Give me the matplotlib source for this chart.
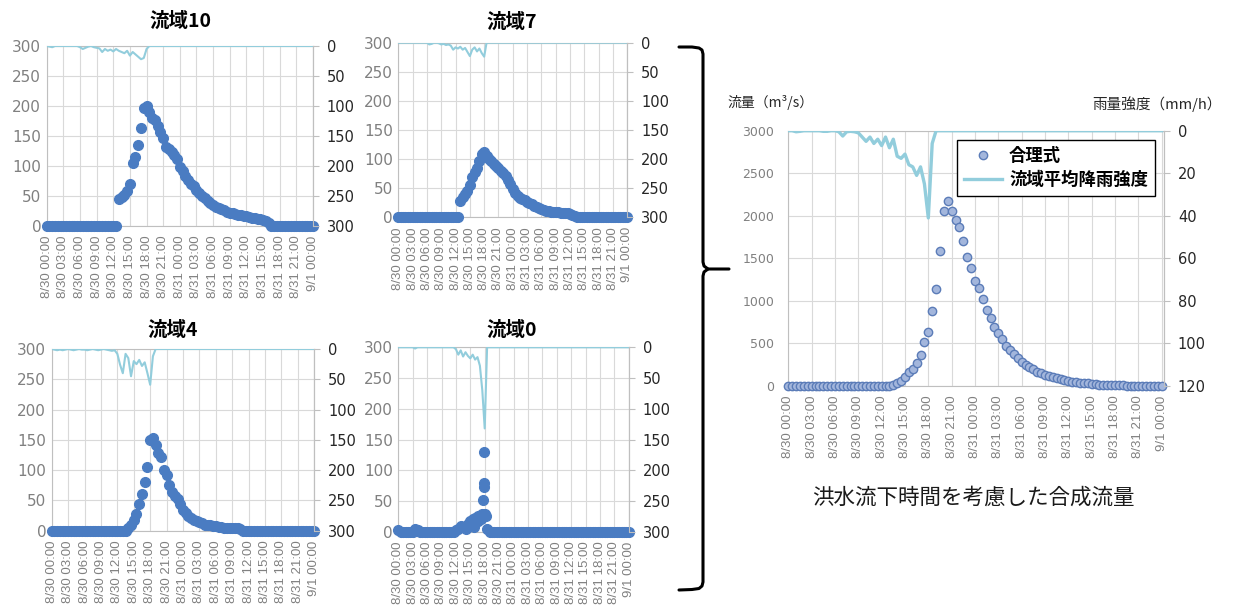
import numpy as np
import matplotlib
matplotlib.use('Agg')
import matplotlib.pyplot as plt
from matplotlib.lines import Line2D

plt.rcParams['font.family'] = ['DejaVu Sans', 'Noto Sans CJK JP']

# time axis: 30 minute steps from 8/30 00:00 to 9/1 00:00 (hours)
hours = np.arange(97) * 0.5
tick_hours = np.arange(0, 49, 3)
tick_labels = ['8/30 00:00', '8/30 03:00', '8/30 06:00', '8/30 09:00', '8/30 12:00',
               '8/30 15:00', '8/30 18:00', '8/30 21:00', '8/31 00:00', '8/31 03:00',
               '8/31 06:00', '8/31 09:00', '8/31 12:00', '8/31 15:00', '8/31 18:00',
               '8/31 21:00', '9/1 00:00']

# flow (m3/s) per sub-basin
q10 = [0]*26 + [45, 48, 52, 58, 70, 105, 115, 135, 163, 196, 200, 190, 180, 176, 166,
                157, 146, 132, 128, 124, 118, 112, 99, 91, 84, 77, 70, 66, 60, 55,
                50, 47, 42, 38, 35, 32, 30, 28, 26, 24, 22, 21, 20, 19, 18,
                17, 16, 15, 14, 13, 12, 11, 10, 8, 5] + [0]*16
q7 = [0]*26 + [28, 35, 40, 45, 55, 70, 78, 85, 97, 108, 112, 105, 100, 96, 92,
               88, 84, 80, 76, 71, 64, 57, 49, 42, 37, 34, 31, 29, 27, 25,
               22, 20, 18, 16, 14, 13, 11, 10, 9, 9, 9, 9, 8, 8, 7,
               7, 5, 4, 3, 1] + [0]*21
q4 = [0]*28 + [5, 10, 17, 27, 44, 60, 80, 105, 150, 153, 142, 128, 122, 100, 92,
               76, 64, 58, 52, 44, 35, 29, 25, 21, 18, 16, 14, 12, 10, 9,
               9, 8, 7, 6, 6, 5, 4, 4, 4, 4, 4, 2] + [0]*27
q0 = [2, 0, 0, 0, 0, 0, 0, 4, 2] + [0]*15 + [2, 5, 10, 8, 5, 12, 18, 20, 22, 25,
                                             26, 28, 28, 5] + [0]*59
# extra 10-minute readings around the 流域0 peak
q0_extra_hours = [15.17, 15.67, 16.17, 16.67, 17.17, 17.67, 17.83, 17.83, 17.83, 17.83, 18.17]
q0_extra_vals = [12, 8, 15, 18, 20, 51, 129, 80, 73, 27, 25]

# rainfall intensity (mm/h) per sub-basin
r10 = [0, 1, 2, 0, 0, 0, 0, 0, 0, 0, 0, 0, 2, 5, 3, 1, 0, 2, 3, 4,
       10, 5, 8, 6, 9, 5, 8, 10, 12, 8, 16, 10, 14, 18, 22, 20, 5, 0] + [0]*59
r7 = [0]*13 + [3, 2, 0, 0, 1, 3, 2, 4, 3, 5, 12, 8, 10, 7, 12,
               9, 16, 23, 12, 8, 15, 10, 18, 24, 0] + [0]*59
r4 = [0, 1, 2, 1, 2, 1, 0, 1, 2, 1, 0, 1, 1, 2, 1, 0, 1, 2, 1, 0,
      1, 2, 3, 2, 8, 26, 40, 8, 15, 45, 20, 25, 18, 28, 22, 40, 59, 12] + [0]*59
r0 = [0]*7 + [2] + [0]*16 + [3, 12, 5, 15, 8, 14, 18, 12, 20, 16, 30, 70, 132, 0] + [0]*59

# combined flow and basin-average rainfall
q_total = [0]*26 + [3, 12, 31, 55, 110, 160, 200, 265, 360, 515, 640, 880, 1145, 1590, 2060,
                    2170, 2060, 1950, 1865, 1700, 1510, 1390, 1235, 1150, 1020, 890, 795, 690, 620, 550,
                    470, 425, 375, 325, 285, 250, 220, 195, 170, 150, 130, 112, 100, 92, 80,
                    70, 63, 52, 45, 38, 32, 30, 24, 20, 15, 12, 12, 12, 12, 12,
                    10, 5] + [0]*9
r_avg = [0, 0, 0.5, 0.3, 0, 0, 0, 0, 0, 0.3, 0.3, 0, 0, 0.5, 2.5, 0.5, 0.3, 0.5, 1, 3,
         5, 3, 6, 4, 7, 3, 8, 4, 12, 13, 11, 16, 17, 21, 17, 25, 41, 6] + [0]*59

W, H = 1252, 610
fig = plt.figure(figsize=(W / 100, H / 100), dpi=100)

cjk = ['Noto Sans CJK JP', 'DejaVu Sans']
grid_c = '#d9d9d9'
spine_c = '#bfbfbf'
dot_c = '#4a7cc2'
rain_c = '#92cddc'


def px_rect(x0, y0, x1, y1):
    return [x0 / W, 1 - y1 / H, (x1 - x0) / W, (y1 - y0) / H]


def style_axes(ax, ax2, ymax, ymax2, ystep, ystep2, left_size, left_pad):
    ax.set_xlim(0, 48)
    ax.set_ylim(0, ymax)
    ax.set_yticks(np.arange(0, ymax + 1, ystep))
    ax.set_xticks(tick_hours)
    ax.set_xticklabels(tick_labels, rotation=90, family='Liberation Sans', fontsize=9.5, color='#808080')
    ax.tick_params(axis='x', length=0, pad=7)
    ax.tick_params(axis='y', length=0, labelsize=left_size, labelcolor='#808080', pad=left_pad)
    ax.grid(True, color=grid_c, lw=0.8)
    ax.set_axisbelow(True)
    for s in ax.spines.values():
        s.set_color(spine_c)
        s.set_linewidth(0.8)
    ax2.set_ylim(ymax2, 0)
    ax2.set_yticks(np.arange(0, ymax2 + 1, ystep2))
    ax2.tick_params(axis='y', length=4, color=spine_c, labelsize=10.5, labelcolor='#262626', pad=6)
    for s in ax2.spines.values():
        s.set_visible(False)
    ax2.spines['right'].set_visible(True)
    ax2.spines['right'].set_color(spine_c)
    ax2.spines['right'].set_linewidth(0.8)


def small_panel(rect, q, r, title, tx, ty):
    ax = fig.add_axes(px_rect(*rect))
    ax2 = ax.twinx()
    ax.plot(hours, q, 'o', ms=7, color=dot_c, clip_on=False, zorder=3)
    ax2.plot(hours, r, color=rain_c, lw=1.5)
    style_axes(ax, ax2, 300, 300, 50, 50, 11, 4)
    fig.text(tx / W, 1 - ty / H, title, family=cjk, fontsize=14, fontweight='bold',
             ha='center', va='center')
    return ax


small_panel((46.7, 46, 313, 226), q10, r10, '流域10', 180, 21)
small_panel((398.3, 42.7, 627.3, 217.3), q7, r7, '流域7', 512, 22)
small_panel((51.7, 349, 314.3, 530.7), q4, r4, '流域4', 173, 330)
ax0 = small_panel((398.3, 347.3, 628.7, 531.7), q0, r0, '流域0', 512, 330)
ax0.plot(q0_extra_hours, q0_extra_vals, 'o', ms=7, color=dot_c, clip_on=False, zorder=3)

# combined chart
axm = fig.add_axes(px_rect(788.3, 130.7, 1164, 386))
axm2 = axm.twinx()
pts, = axm.plot(hours, q_total, 'o', ms=6, mfc='#a3b6dc', mec='#5b7cb8', mew=1.0,
                clip_on=False, zorder=3, label='合理式')
rain_line, = axm2.plot(hours, r_avg, color=rain_c, lw=2.4, label='流域平均降雨強度')
style_axes(axm, axm2, 3000, 120, 500, 20, 9, 10)
axm.set_xlim(0, 48.3)
axm2.tick_params(axis='y', labelsize=10.5)
leg = axm2.legend(handles=[pts, rain_line], loc='upper right', bbox_to_anchor=(0.976, 0.965),
                  prop={'family': cjk, 'size': 12.5, 'weight': 'bold'}, frameon=True,
                  fancybox=False, edgecolor='black', framealpha=1, borderpad=0.4,
                  labelspacing=0.35, handlelength=2.2, handletextpad=0.4, borderaxespad=0)
leg.get_frame().set_linewidth(1.0)

fig.text(727 / W, 1 - 103 / H, '流量（m³/s）', family=cjk, fontsize=10, ha='left', va='center', color='#262626')
fig.text(1222 / W, 1 - 104 / H, '雨量強度（mm/h）', family=cjk, fontsize=10.5, ha='right', va='center', color='#262626')
fig.text(973 / W, 1 - 498 / H, '洪水流下時間を考慮した合成流量', family=cjk, fontsize=15.5,
         ha='center', va='center', color='#1a1a1a')

# curly brace joining the four basins to the combined chart
upper = [(679, 47), (692, 47), (699, 48), (702, 50), (703, 54), (703, 262), (704, 266), (708, 269), (729, 269)]
lower = [(679, 590), (692, 589.5), (699, 588.5), (702, 586), (703, 582), (703, 276), (704, 272), (708, 269)]
for seg in (upper, lower):
    xs = [p[0] / W for p in seg]
    ys = [1 - p[1] / H for p in seg]
    fig.add_artist(Line2D(xs, ys, color='black', lw=2.2, transform=fig.transFigure,
                          solid_capstyle='round', solid_joinstyle='round'))

fig.savefig('out.png', dpi=100)
